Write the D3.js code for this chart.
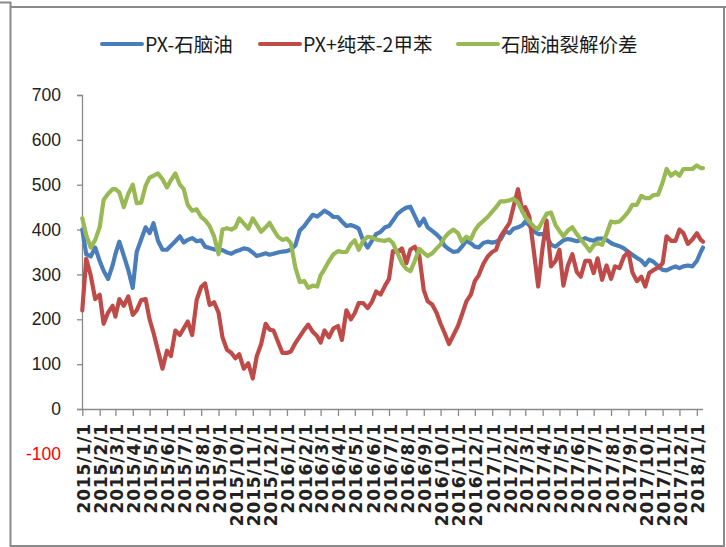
<!DOCTYPE html>
<html><head><meta charset="utf-8">
<script src="https://cdn.jsdelivr.net/npm/d3@7/dist/d3.min.js"></script>
<style>body{margin:0;background:#fff}svg{display:block}</style>
</head><body><svg id="c" width="726" height="547"></svg>
<script>
const dates = [
"2015-01-01","2015-01-08","2015-01-16","2015-01-24","2015-02-01","2015-02-08","2015-02-16","2015-02-24",
"2015-03-01","2015-03-08","2015-03-16","2015-03-24","2015-04-01","2015-04-08","2015-04-16","2015-04-24",
"2015-05-01","2015-05-08","2015-05-16","2015-05-24","2015-06-01","2015-06-08","2015-06-16","2015-06-24",
"2015-07-01","2015-07-08","2015-07-16","2015-07-24","2015-08-01","2015-08-08","2015-08-16","2015-08-24",
"2015-09-01","2015-09-08","2015-09-16","2015-09-24","2015-10-01","2015-10-08","2015-10-16","2015-10-24",
"2015-11-01","2015-11-08","2015-11-16","2015-11-24","2015-12-01","2015-12-08","2015-12-16","2015-12-24",
"2016-01-01","2016-01-08","2016-01-16","2016-01-24","2016-02-01","2016-02-08","2016-02-16","2016-02-24",
"2016-03-01","2016-03-08","2016-03-16","2016-03-24","2016-04-01","2016-04-08","2016-04-16","2016-04-24",
"2016-05-01","2016-05-08","2016-05-16","2016-05-24","2016-06-01","2016-06-08","2016-06-16","2016-06-24",
"2016-07-01","2016-07-08","2016-07-16","2016-07-24","2016-08-01","2016-08-08","2016-08-16","2016-08-24",
"2016-09-01","2016-09-08","2016-09-16","2016-09-24","2016-10-01","2016-10-08","2016-10-16","2016-10-24",
"2016-11-01","2016-11-08","2016-11-16","2016-11-24","2016-12-01","2016-12-08","2016-12-16","2016-12-24",
"2017-01-01","2017-01-08","2017-01-16","2017-01-24","2017-02-01","2017-02-08","2017-02-16","2017-02-24",
"2017-03-01","2017-03-08","2017-03-16","2017-03-24","2017-04-01","2017-04-08","2017-04-16","2017-04-24",
"2017-05-01","2017-05-08","2017-05-16","2017-05-24","2017-06-01","2017-06-08","2017-06-16","2017-06-24",
"2017-07-01","2017-07-08","2017-07-16","2017-07-24","2017-08-01","2017-08-08","2017-08-16","2017-08-24",
"2017-09-01","2017-09-08","2017-09-16","2017-09-24","2017-10-01","2017-10-08","2017-10-16","2017-10-24",
"2017-11-01","2017-11-08","2017-11-16","2017-11-24","2017-12-01","2017-12-08","2017-12-16","2017-12-24",
"2018-01-01","2018-01-08","2018-01-12"];

// PX-石脑油
const pxNaphtha = [
400,345,340,360, 330,308,290,320, 345,373,342,310, 270,350,378,405,
392,414,375,355, 355,364,374,385, 371,377,381,374, 376,362,359,356,
355,354,349,346, 351,354,358,356, 349,341,344,347, 344,346,349,351,
352,355,365,398, 408,420,433,429, 435,442,436,428, 428,418,408,410,
407,402,375,360, 376,390,395,405, 408,420,435,443, 449,451,430,409,
424,405,397,389, 380,364,356,350, 352,362,375,369, 362,360,370,373,
371,373,378,396, 392,402,405,410, 418,410,396,390, 390,385,366,362,
369,376,379,377, 374,377,381,377, 375,380,380,377, 370,366,363,358,
350,344,337,331, 321,333,328,318, 310,309,314,318, 314,318,320,318,
330,350,360];

// PX+纯苯-2甲苯
const pxBenzeneToluene = [
220,335,298,245, 255,190,215,230, 206,245,230,251, 210,220,243,245,
200,170,130,90, 130,118,175,165, 180,195,165,243, 272,280,232,238,
215,160,132,125, 113,122,90,102, 68,117,145,190, 177,175,150,125,
125,128,147,162, 177,188,172,162, 148,175,160,180, 185,154,220,200,
214,236,236,225, 240,262,255,275, 290,352,350,358, 325,355,362,342,
265,240,233,214, 190,170,145,165, 185,210,240,255, 285,298,323,340,
350,355,385,400, 415,451,490,440, 450,430,355,273, 360,420,318,330,
355,275,320,345, 305,295,330,330, 303,336,288,320, 290,318,314,340,
350,305,285,295, 273,303,310,315, 325,385,375,375, 400,392,368,378,
392,377,373];

// 石脑油裂解价差
const naphthaCrack = [
425,388,360,377, 405,466,480,490, 490,483,450,480, 500,459,460,498,
516,520,525,512, 494,510,525,500, 490,455,442,445, 428,421,408,385,
345,400,403,400, 405,425,414,402, 425,411,395,405, 415,400,384,377,
380,370,315,283, 285,270,275,273, 298,312,330,345, 352,350,350,368,
376,355,375,384, 382,378,376,375, 378,370,348,325, 312,307,330,357,
348,341,347,358, 367,382,393,400, 392,373,384,378, 398,410,419,428,
440,450,463,463, 465,469,460,440, 428,418,407,401, 419,435,438,410,
397,385,398,405, 390,378,366,352, 365,370,366,390, 418,416,418,428,
440,455,455,475, 470,470,477,478, 505,535,520,528, 520,535,535,535,
543,537,537];

const seriesNames = ["PX-石脑油", "PX+纯苯-2甲苯", "石脑油裂解价差"];
const seriesColors = ["#4a7ebb", "#be4b48", "#98b954"];
const yTicks = [0, 100, 200, 300, 400, 500, 600, 700];
const yExtraLabel = -100;
const xStart = "2015-01-01", xEnd = "2018-01-12", xLastTick = "2018-01-01";

const parse = d3.timeParse("%Y-%m-%d");
const svg = d3.select("#c");

// frame
const frame = svg.append("g").attr("stroke", "#8a8a8a").attr("stroke-width", 2).attr("fill", "none");
frame.append("path").attr("d", "M0,2.5H10.5V547");
frame.append("path").attr("d", "M10.5,7H726");
frame.append("path").attr("d", "M724,7V546H10.5");

const x = d3.scaleTime().domain([parse(xStart), parse(xEnd)]).range([82.3, 703]);
const y = d3.scaleLinear().domain([0, 700]).range([409, 95]);

// y axis
const yAxis = svg.append("g").attr("transform", "translate(82,0)")
  .call(d3.axisLeft(y).tickValues(yTicks).tickSize(5).tickPadding(16).tickFormat(d3.format("d")));
yAxis.select(".domain").attr("stroke", "#8a8a8a").attr("stroke-width", 1.3);
yAxis.selectAll(".tick line").attr("stroke", "#8a8a8a").attr("stroke-width", 1.3);
yAxis.selectAll(".tick text").attr("font-family", "Liberation Sans, Arial, sans-serif")
  .attr("font-size", 17.5).attr("fill", "#222");
svg.append("text").attr("x", 61).attr("y", y(yExtraLabel)).attr("dy", "0.35em")
  .attr("text-anchor", "end").attr("font-family", "Liberation Sans, Arial, sans-serif")
  .attr("font-size", 17.5).attr("fill", "#ff0000").text(yExtraLabel);

// x axis
const monthTicks = d3.timeMonth.range(parse(xStart), d3.timeDay.offset(parse(xLastTick), 1));
const xAxis = svg.append("g").attr("transform", `translate(0,${y(0)})`)
  .call(d3.axisBottom(x).tickValues(monthTicks).tickSize(7).tickFormat(""));
xAxis.select(".domain").attr("stroke", "#8a8a8a").attr("stroke-width", 1.3)
  .attr("d", `M${x.range()[0]},0.5H${x.range()[1]}`);
xAxis.selectAll(".tick line").attr("stroke", "#8a8a8a").attr("stroke-width", 1.3);
const fmt = d3.timeFormat("%Y/%-m/%-d");
svg.append("g").selectAll("text").data(monthTicks).join("text")
  .attr("transform", d => `translate(${x(d) + 1.5},${y(0) + 14}) rotate(-90)`)
  .attr("text-anchor", "end").attr("dominant-baseline", "central")
  .attr("font-family", "DejaVu Sans, sans-serif").attr("font-weight", "bold")
  .attr("font-size", 17).attr("letter-spacing", 0.9).attr("fill", "#222")
  .text(d => fmt(d));

// lines
const parsedDates = dates.map(parse);
const series = [pxNaphtha, pxBenzeneToluene, naphthaCrack];
const line = d3.line().x((d, i) => x(parsedDates[i])).y(d => y(d));
series.forEach((vals, k) => {
  svg.append("path").datum(vals).attr("d", line).attr("fill", "none")
    .attr("stroke", seriesColors[k]).attr("stroke-width", 4.2)
    .attr("stroke-linejoin", "round").attr("stroke-linecap", "round");
});

// legend
const legendX = [102, 260, 458];
const lg = svg.append("g");
seriesNames.forEach((name, k) => {
  lg.append("line").attr("x1", legendX[k]).attr("x2", legendX[k] + 40).attr("y1", 44).attr("y2", 44)
    .attr("stroke", seriesColors[k]).attr("stroke-width", 4).attr("stroke-linecap", "round");
  lg.append("text").attr("x", legendX[k] + 43).attr("y", 45).attr("dy", "0.36em")
    .attr("font-family", "Noto Sans CJK SC, sans-serif").attr("font-size", 19.5).attr("fill", "#1a1a1a")
    .text(name);
});
</script></body></html>
